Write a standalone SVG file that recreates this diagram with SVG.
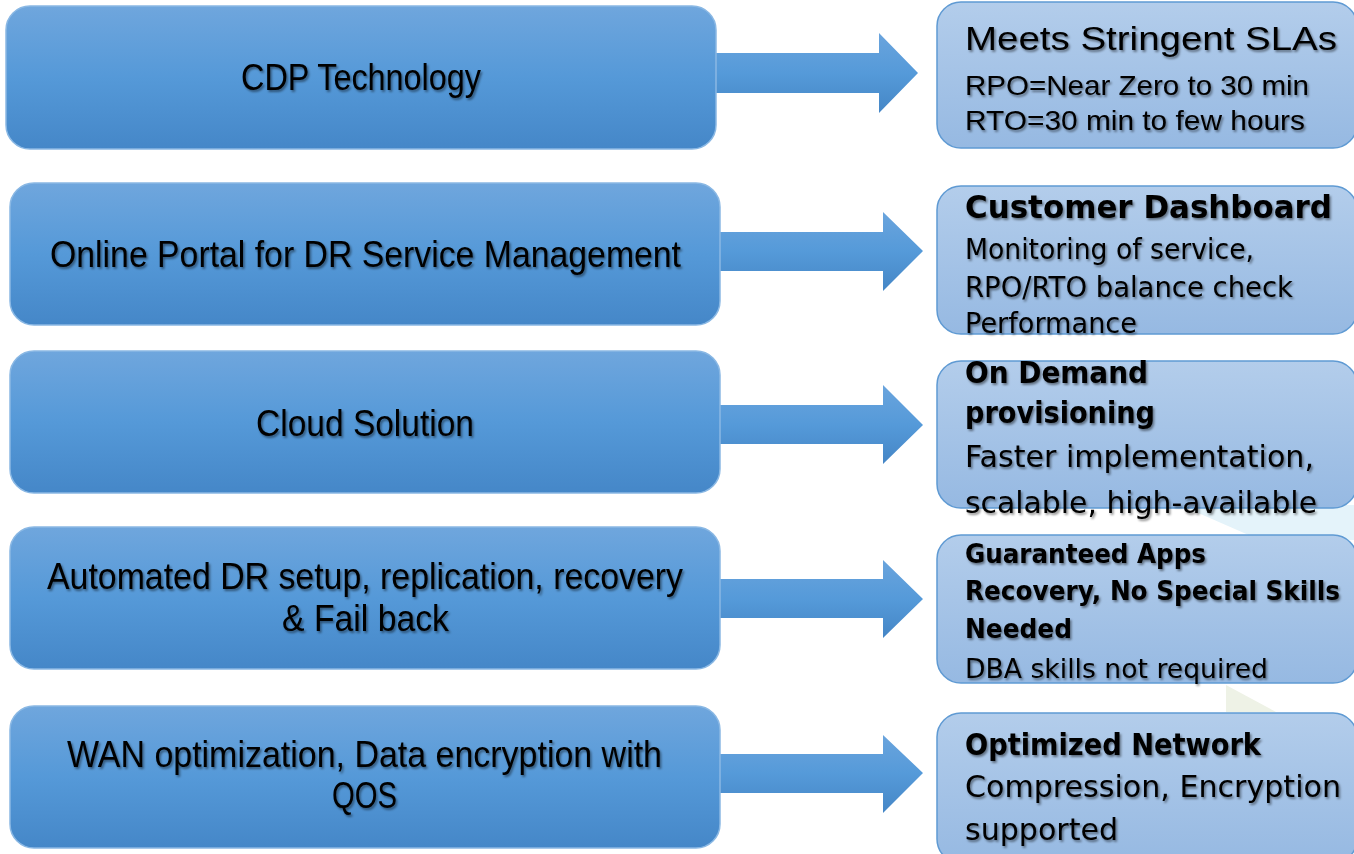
<svg xmlns="http://www.w3.org/2000/svg" width="1354" height="854" viewBox="0 0 1354 854">
<defs>
<linearGradient id="gL" x1="0" y1="0" x2="0" y2="1"><stop offset="0" stop-color="#6fa6dd"/><stop offset="0.5" stop-color="#5599d8"/><stop offset="1" stop-color="#4587c8"/></linearGradient>
<linearGradient id="gA" x1="0" y1="0" x2="0" y2="1"><stop offset="0" stop-color="#6aa4dd"/><stop offset="0.5" stop-color="#559ad9"/><stop offset="1" stop-color="#4586c6"/></linearGradient>
<linearGradient id="gR" x1="0" y1="0" x2="0" y2="1"><stop offset="0" stop-color="#b3cdeb"/><stop offset="1" stop-color="#96b9e2"/></linearGradient>
<filter id="sh" x="-5%" y="-30%" width="110%" height="160%"><feDropShadow dx="1.5" dy="2" stdDeviation="1.2" flood-color="#000" flood-opacity="0.45"/></filter>
</defs>
<style>
.lb{fill:url(#gL);stroke:#8ab8e4;stroke-width:1.5}
.rb{fill:url(#gR);stroke:#5f9ad3;stroke-width:1.5}
.ar{fill:url(#gA);stroke:none}
.lt{font-family:"Liberation Sans",Arial,sans-serif;font-size:36px;fill:#000}
.ct{font-family:"Liberation Sans",Arial,sans-serif;fill:#000}
.rt{font-family:"DejaVu Sans","Liberation Sans",sans-serif;fill:#000}
.b{font-weight:bold}
text{filter:url(#sh)}
</style>
<rect width="1354" height="854" fill="#ffffff"/>
<polygon points="1180,505 1354,505 1354,540 1260,540" fill="#e4f3fa"/>
<polygon points="1226,685 1276,712 1226,712" fill="#eef2e6"/>

<g id="connectors">
<polygon class="ar" points="714,53 879,53 879,33 918,73 879,113 879,93 714,93"/>
<polygon class="ar" points="718,232 883,232 883,212 923,251 883,291 883,271 718,271"/>
<polygon class="ar" points="718,405 883,405 883,385 923,425 883,464 883,444 718,444"/>
<polygon class="ar" points="718,579 883,579 883,560 923,599 883,638 883,618 718,618"/>
<polygon class="ar" points="718,754 883,754 883,735 923,773 883,813 883,793 718,793"/>
</g>

<g id="n1">
<rect class="lb" x="6" y="6" width="710" height="143" rx="24"/>
<text class="lt" x="241" y="90" textLength="240" lengthAdjust="spacingAndGlyphs">CDP Technology</text>
</g>
<g id="n2">
<rect class="lb" x="10" y="183" width="710" height="142" rx="24"/>
<text class="lt" x="50" y="267" textLength="631" lengthAdjust="spacingAndGlyphs">Online Portal for DR Service Management</text>
</g>
<g id="n3">
<rect class="lb" x="10" y="351" width="710" height="142" rx="24"/>
<text class="lt" x="256" y="436" textLength="218" lengthAdjust="spacingAndGlyphs">Cloud Solution</text>
</g>
<g id="n4">
<rect class="lb" x="10" y="527" width="710" height="142" rx="24"/>
<text class="lt" x="47" y="589" textLength="636" lengthAdjust="spacingAndGlyphs">Automated DR setup, replication, recovery</text>
<text class="lt" x="282" y="631" textLength="167" lengthAdjust="spacingAndGlyphs">&amp; Fail back</text>
</g>
<g id="n5">
<rect class="lb" x="10" y="706" width="710" height="142" rx="24"/>
<text class="lt" x="67" y="767" textLength="595" lengthAdjust="spacingAndGlyphs">WAN optimization, Data encryption with</text>
<text class="lt" x="332" y="808" textLength="65" lengthAdjust="spacingAndGlyphs">QOS</text>
</g>

<g id="r1">
<rect class="rb" x="937" y="2" width="420" height="146" rx="24"/>
<text class="ct" x="965" y="50" font-size="33" textLength="372" lengthAdjust="spacingAndGlyphs">Meets Stringent SLAs</text>
<text class="ct" x="965" y="95" font-size="28" textLength="344" lengthAdjust="spacingAndGlyphs">RPO=Near Zero to 30 min</text>
<text class="ct" x="965" y="130" font-size="28" textLength="340" lengthAdjust="spacingAndGlyphs">RTO=30 min to few hours</text>
</g>
<g id="r2">
<rect class="rb" x="937" y="186" width="420" height="148" rx="24"/>
<text class="rt b" x="965" y="218" font-size="32" textLength="367" lengthAdjust="spacingAndGlyphs">Customer Dashboard</text>
<text class="rt" x="965" y="259" font-size="29" textLength="289" lengthAdjust="spacingAndGlyphs">Monitoring of service,</text>
<text class="rt" x="965" y="297" font-size="29" textLength="328" lengthAdjust="spacingAndGlyphs">RPO/RTO balance check</text>
<text class="rt" x="965" y="333" font-size="29" textLength="172" lengthAdjust="spacingAndGlyphs">Performance</text>
</g>
<g id="r3">
<rect class="rb" x="937" y="361" width="420" height="147" rx="24"/>
<text class="rt b" x="965" y="383" font-size="30" textLength="183" lengthAdjust="spacingAndGlyphs">On Demand</text>
<text class="rt b" x="965" y="423" font-size="30" textLength="190" lengthAdjust="spacingAndGlyphs">provisioning</text>
<text class="rt" x="965" y="467" font-size="30" textLength="349" lengthAdjust="spacingAndGlyphs">Faster implementation,</text>
<text class="rt" x="965" y="513" font-size="30" textLength="352" lengthAdjust="spacingAndGlyphs">scalable, high-available</text>
</g>
<g id="r4">
<rect class="rb" x="937" y="535" width="420" height="148" rx="24"/>
<text class="rt b" x="965" y="563" font-size="26" textLength="241" lengthAdjust="spacingAndGlyphs">Guaranteed Apps</text>
<text class="rt b" x="965" y="600" font-size="26" textLength="375" lengthAdjust="spacingAndGlyphs">Recovery, No Special Skills</text>
<text class="rt b" x="965" y="638" font-size="26" textLength="107" lengthAdjust="spacingAndGlyphs">Needed</text>
<text class="rt" x="965" y="678" font-size="27" textLength="303" lengthAdjust="spacingAndGlyphs">DBA skills not required</text>
</g>
<g id="r5">
<rect class="rb" x="937" y="713" width="420" height="150" rx="24"/>
<text class="rt b" x="965" y="755" font-size="31" textLength="296" lengthAdjust="spacingAndGlyphs">Optimized Network</text>
<text class="rt" x="965" y="797" font-size="30" textLength="376" lengthAdjust="spacingAndGlyphs">Compression, Encryption</text>
<text class="rt" x="965" y="840" font-size="30" textLength="153" lengthAdjust="spacingAndGlyphs">supported</text>
</g>
</svg>
